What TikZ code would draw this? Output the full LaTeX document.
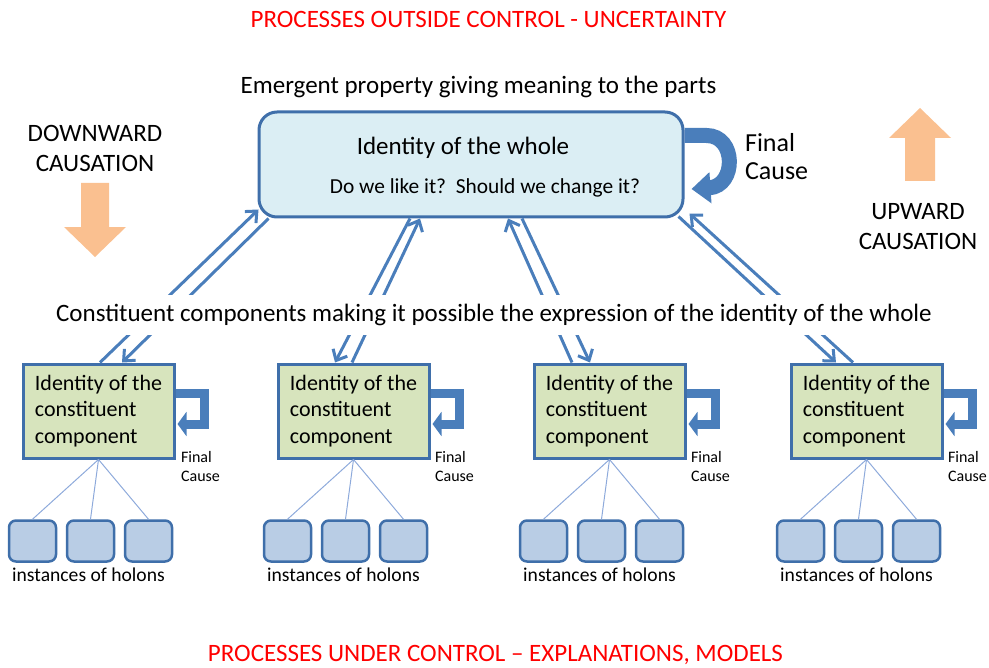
\documentclass[tikz,border=0pt]{standalone}
\usepackage{fontspec}
\setmainfont{Carlito}
\usetikzlibrary{arrows.meta,positioning}

\definecolor{wholefill}{HTML}{DBEEF4}
\definecolor{boxline}{HTML}{3F6FAA}
\definecolor{compfill}{HTML}{D7E4BD}
\definecolor{holonfill}{HTML}{B9CDE5}
\definecolor{causeblue}{HTML}{4A7EBB}
\definecolor{causeorange}{HTML}{FAC090}
\definecolor{treeline}{HTML}{8EAADB}

\begin{document}
\begin{tikzpicture}[x = 0.5pt, y = -0.5pt, font = \fontsize{12.5}{15}\selectfont, > = {Straight Barb[length = 4.5pt, width = 8pt]}]
    \tikzset{
      whole/.style = {draw = boxline, line width = 1.5pt, fill = wholefill, rounded corners = 9pt, minimum width = 212pt, minimum height = 52.5pt},
      component/.style = {draw = boxline, line width = 1.5pt, fill = compfill, minimum width = 75.5pt, minimum height = 47pt, align = left, font = \fontsize{11}{13.2}\selectfont},
      holon/.style = {draw = boxline, line width = 1.25pt, fill = holonfill, rounded corners = 3.5pt, minimum width = 23.5pt, minimum height = 20.5pt},
      causal/.style = {draw = causeblue, line width = 1.5pt, ->},
      tree/.style = {draw = treeline, line width = 0.5pt},
      finalloop/.style = {draw = causeblue, line width = 4.5pt, line join = miter, -{Triangle[length = 4.5pt, width = 12pt]}},
      wholeloop/.style = {draw = causeblue, line width = 7.5pt, -{Triangle[length = 9.5pt, width = 15pt]}},
      smallcause/.style = {anchor = west, align = left, font = \fontsize{8}{9.5}\selectfont},
      holonlabel/.style = {anchor = base, font = \fontsize{9.8}{12}\selectfont},
      heading/.style = {anchor = base, text = red},
    }
    \useasboundingbox (0, 0) rectangle (989, 668);

    \node [heading] (outside) at (488.5, 28) {PROCESSES OUTSIDE CONTROL - UNCERTAINTY};
    \node [heading] (under) at (495.5, 661) {PROCESSES UNDER CONTROL – EXPLANATIONS, MODELS};
    \node [anchor = base] (emergent) at (478.5, 94) {Emergent property giving meaning to the parts};

    \node [align = center] (down) at (95, 148) {DOWNWARD\\CAUSATION};
    \node [align = center] (up) at (918, 227) {UPWARD\\CAUSATION};
    \fill [causeorange] (81, 183) -- (109, 183) -- (109, 227) -- (126, 227) -- (95, 257) -- (64, 227) -- (81, 227) -- cycle;
    \fill [causeorange] (905, 181) -- (935, 181) -- (935, 138) -- (951, 138) -- (920, 108) -- (889, 138) -- (905, 138) -- cycle;

    \node [whole] (whole) at (471, 164.5) {};
    \node [anchor = base] (wholetitle) at (463, 155) {Identity of the whole};
    \node [anchor = base, font = \fontsize{10.7}{12}\selectfont] (wholequestion) at (485, 193) {Do we like it?~~Should we change it?};
    \draw [wholeloop] ([yshift = 14.5pt]whole.east) -- ++(22, 0) .. controls +(30, 0) and +(45, -3) .. ++(-15, 53.5);
    \node [anchor = west, align = left, font = \fontsize{13}{14}\selectfont] (wholecause) at (738, 157) {Final\\Cause};

    \node [component] (comp1) at (98.5, 411) {Identity of the\\constituent\\component};
    \node [component] (comp2) at (353.5, 411) {Identity of the\\constituent\\component};
    \node [component] (comp3) at (609.5, 411) {Identity of the\\constituent\\component};
    \node [component] (comp4) at (866.5, 411) {Identity of the\\constituent\\component};

    \draw [finalloop] ([yshift = 9pt]comp1.east) -- ++(29, 0) -- ++(0, 31) -- ++(-27, 0);
    \draw [finalloop] ([yshift = 9pt]comp2.east) -- ++(29, 0) -- ++(0, 31) -- ++(-27, 0);
    \draw [finalloop] ([yshift = 9pt]comp3.east) -- ++(29, 0) -- ++(0, 31) -- ++(-27, 0);
    \draw [finalloop] ([yshift = 9pt]comp4.east) -- ++(29, 0) -- ++(0, 31) -- ++(-27, 0);
    \node [smallcause] (cause1) at (174, 466) {Final\\Cause};
    \node [smallcause] (cause2) at (428, 466) {Final\\Cause};
    \node [smallcause] (cause3) at (684, 466) {Final\\Cause};
    \node [smallcause] (cause4) at (941, 466) {Final\\Cause};

    \draw [causal] ([xshift = 0.75pt]comp1.north) -- ([xshift = 0.5pt, yshift = 4.5pt]whole.south west);
    \draw [causal] ([xshift = 5.5pt]whole.south west) -- ([xshift = 11.75pt]comp1.north);
    \draw [causal] ([xshift = -0.75pt]comp2.north) -- ([xshift = -25.5pt]whole.south);
    \draw [causal] ([xshift = -30.5pt]whole.south) -- ([xshift = -9.25pt]comp2.north);
    \draw [causal] ([xshift = -18.75pt]comp3.north) -- ([xshift = 18.5pt]whole.south);
    \draw [causal] ([xshift = 25.5pt]whole.south) -- ([xshift = -9.75pt]comp3.north);
    \draw [causal] ([xshift = -6.75pt]comp4.north) -- ([xshift = 2.5pt, yshift = 2.5pt]whole.south east);
    \draw [causal] ([xshift = -3pt, yshift = 1pt]whole.south east) -- ([xshift = -15.25pt]comp4.north);

    \node [fill = white, minimum height = 20pt, inner xsep = 1pt] (constituents) at (494, 315) {Constituent components making it possible the expression of the identity of the whole};

    \node [holon] (h11) at (32.5, 541) {};
    \node [holon] (h12) at (90.5, 541) {};
    \node [holon] (h13) at (148.5, 541) {};
    \node [holon] (h21) at (287.5, 541) {};
    \node [holon] (h22) at (345.5, 541) {};
    \node [holon] (h23) at (403.5, 541) {};
    \node [holon] (h31) at (543.5, 541) {};
    \node [holon] (h32) at (601.5, 541) {};
    \node [holon] (h33) at (659.5, 541) {};
    \node [holon] (h41) at (800.5, 541) {};
    \node [holon] (h42) at (858.5, 541) {};
    \node [holon] (h43) at (916.5, 541) {};

    \draw [tree] (comp1.south) -- (h11.north);
    \draw [tree] (comp1.south) -- (h12.north);
    \draw [tree] (comp1.south) -- (h13.north);
    \draw [tree] (comp2.south) -- (h21.north);
    \draw [tree] (comp2.south) -- (h22.north);
    \draw [tree] (comp2.south) -- (h23.north);
    \draw [tree] (comp3.south) -- (h31.north);
    \draw [tree] (comp3.south) -- (h32.north);
    \draw [tree] (comp3.south) -- (h33.north);
    \draw [tree] (comp4.south) -- (h41.north);
    \draw [tree] (comp4.south) -- (h42.north);
    \draw [tree] (comp4.south) -- (h43.north);

    \node [holonlabel] (holons1) at (88.5, 581) {instances of holons};
    \node [holonlabel] (holons2) at (343.5, 581) {instances of holons};
    \node [holonlabel] (holons3) at (599.5, 581) {instances of holons};
    \node [holonlabel] (holons4) at (856.5, 581) {instances of holons};
  \end{tikzpicture}
\end{document}
